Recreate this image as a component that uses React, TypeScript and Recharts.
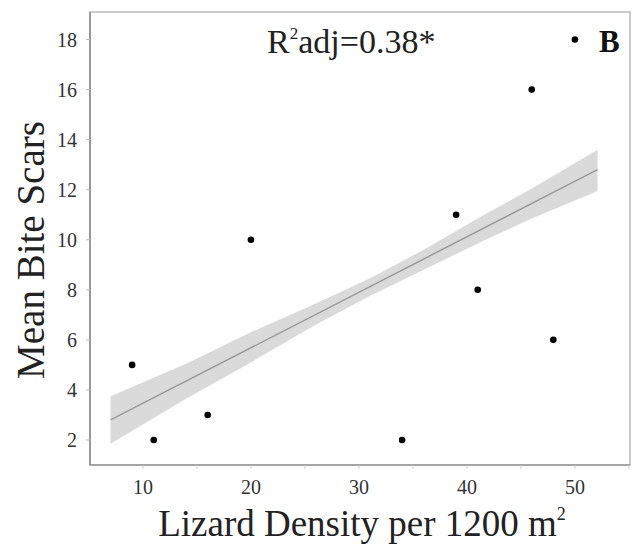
import React from 'react';
import {
  ComposedChart,
  Area,
  Line,
  Scatter,
  XAxis,
  YAxis,
  ReferenceArea,
} from 'recharts';

// Lizard density (per 1200 m²) and mean bite scars at each site
const density = [9, 11, 16, 20, 34, 39, 41, 46, 48, 50];
const biteScars = [5, 2, 3, 10, 2, 11, 8, 16, 6, 18];

// Fitted regression line (ends) and its confidence band
const fitX = [7, 52.1];
const fitY = [2.8, 12.8];
const bandX = [7, 14, 20, 26, 31, 36, 41, 46, 52.1];
const bandLow = [1.85, 3.65, 5.1, 6.6, 7.75, 8.8, 9.85, 10.85, 11.95];
const bandHigh = [3.75, 5.05, 6.3, 7.45, 8.45, 9.6, 10.85, 12.05, 13.6];

const xTicks = [10, 15, 20, 25, 30, 35, 40, 45, 50, 55];
const yTicks = [2, 4, 6, 8, 10, 12, 14, 16, 18];
const xDomain = [5.1, 55.1];
const yDomain = [1, 19.1];

const points = density.map((x, i) => ({ x, y: biteScars[i] }));
const fitLine = fitX.map((x, i) => ({ x, fit: fitY[i] }));
const band = bandX.map((x, i) => ({ x, range: [bandLow[i], bandHigh[i]] }));

const FONT = '"Liberation Serif", "Times New Roman", serif';

const App = () => {
  return (
    <div style={{ position: 'fixed', left: 0, top: 0, width: 639, height: 548, background: '#fff' }}>
      <ComposedChart
        width={639}
        height={548}
        margin={{ top: 12, right: 9, left: 0, bottom: 0 }}
        style={{ fontFamily: FONT }}
      >
        <XAxis
          type="number"
          dataKey="x"
          domain={xDomain}
          ticks={xTicks}
          allowDataOverflow
          height={83}
          tickSize={4}
          tickMargin={11}
          tickFormatter={(v: number) => (v % 10 === 0 && v < 55 ? String(v) : '')}
          tick={{ fontSize: 20, fill: '#333', fontFamily: FONT }}
          axisLine={{ stroke: '#999', strokeWidth: 1.5 }}
          tickLine={{ stroke: '#ccc' }}
        />
        <YAxis
          type="number"
          domain={yDomain}
          ticks={yTicks}
          allowDataOverflow
          width={90}
          tickSize={4}
          tickMargin={9}
          tick={{ fontSize: 20, fill: '#333', fontFamily: FONT }}
          axisLine={{ stroke: '#888', strokeWidth: 1.5 }}
          tickLine={{ stroke: '#bbb' }}
        />
        {/* light frame around the plot panel */}
        <ReferenceArea
          x1={xDomain[0]}
          x2={xDomain[1]}
          y1={yDomain[0]}
          y2={yDomain[1]}
          fill="none"
          stroke="#bbb"
          strokeWidth={1.5}
          ifOverflow="visible"
        />
        <Area
          data={band}
          dataKey="range"
          type="linear"
          stroke="none"
          fill="#dadada"
          fillOpacity={1}
          isAnimationActive={false}
        />
        <Line
          data={fitLine}
          dataKey="fit"
          type="linear"
          stroke="#9a9a9a"
          strokeWidth={1.5}
          dot={false}
          isAnimationActive={false}
        />
        <Scatter
          data={points}
          dataKey="y"
          fill="#000"
          shape={(p: any) => <circle cx={p.cx} cy={p.cy} r={3.3} fill="#000" />}
          isAnimationActive={false}
        />
        <text x={267} y={53} fontSize={34} fill="#222" fontFamily={FONT}>
          R<tspan dy={-14} fontSize={17}>2</tspan>
          <tspan dy={14}>adj=0.38*</tspan>
        </text>
        <text x={599} y={52} fontSize={31} fontWeight="bold" fill="#111" fontFamily={FONT}>
          B
        </text>
        <text
          x={44}
          y={250}
          transform="rotate(-90 44 250)"
          textAnchor="middle"
          fontSize={39}
          fill="#222"
          fontFamily={FONT}
        >
          Mean Bite Scars
        </text>
        <text x={362} y={536} textAnchor="middle" fontSize={37} fill="#222" fontFamily={FONT}>
          Lizard Density per 1200 m<tspan dy={-16} fontSize={18}>2</tspan>
        </text>
      </ComposedChart>
    </div>
  );
};

export default App;
